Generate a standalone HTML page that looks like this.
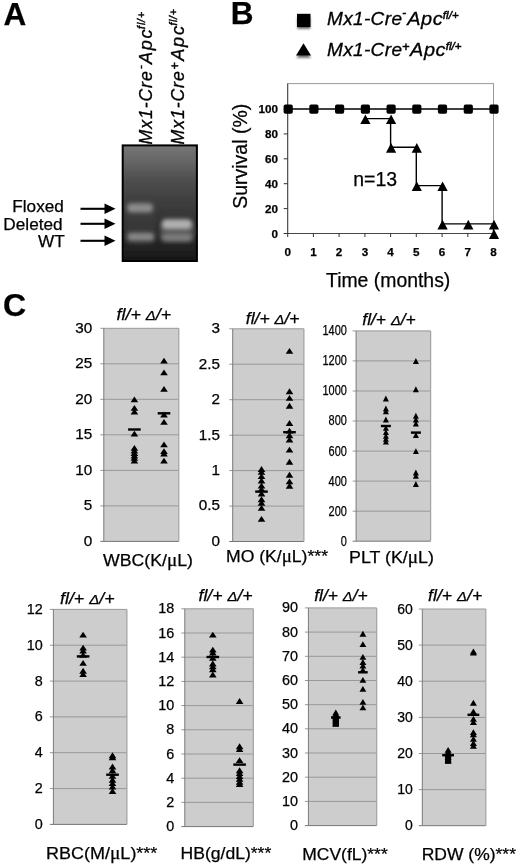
<!DOCTYPE html>
<html><head><meta charset="utf-8"><title>Figure</title>
<style>html,body{margin:0;padding:0;background:#fff;overflow:hidden;}svg{display:block;position:absolute;left:0;top:0;font-family:"Liberation Sans",sans-serif;}text{font-family:"Liberation Sans",sans-serif;fill:#000;stroke:#000;stroke-width:0.25px;}.b{font-weight:bold;}.i{font-style:italic;}</style></head><body>
<svg width="520" height="867" viewBox="0 0 520 867">
<defs><linearGradient id="gel" x1="0" y1="0" x2="0" y2="1"><stop offset="0" stop-color="#767676"/><stop offset="0.12" stop-color="#686868"/><stop offset="0.3" stop-color="#4e4e4e"/><stop offset="0.5" stop-color="#3d3d3d"/><stop offset="0.75" stop-color="#2d2d2d"/><stop offset="0.92" stop-color="#1f1f1f"/><stop offset="1" stop-color="#151515"/></linearGradient><filter id="bl" x="-50%" y="-50%" width="200%" height="200%"><feGaussianBlur stdDeviation="2.3"/></filter><filter id="bl2" x="-50%" y="-50%" width="200%" height="200%"><feGaussianBlur stdDeviation="1.2"/></filter><filter id="sh" x="-50%" y="-50%" width="200%" height="200%"><feGaussianBlur stdDeviation="1.3"/></filter><filter id="soft" x="-20%" y="-20%" width="140%" height="140%"><feGaussianBlur stdDeviation="0.45"/></filter></defs>
<rect x="0" y="0" width="520" height="867" fill="#fff"/>
<g filter="url(#soft)">
<text class="b" x="3.6" y="25.4" font-size="31.5">A</text>
<text class="b" x="230.8" y="24" font-size="31.5">B</text>
<text class="b" x="3.1" y="316.2" font-size="32">C</text>
<g transform="translate(152.2,144.5) rotate(-90)"><text class="i" transform="translate(0.0,0.0) scale(0.94,1)" font-size="18.8" textLength="77.9" lengthAdjust="spacing" style="stroke-width:0.3px">Mx1-Cre</text><text class="i" transform="translate(75.6,-8.2) scale(1.0,1)" font-size="11.0" textLength="3.3" lengthAdjust="spacing" style="stroke-width:0.5px">-</text><text class="i" transform="translate(80.5,0.0) scale(0.97,1)" font-size="18.8" textLength="35.7" lengthAdjust="spacing" style="stroke-width:0.3px">Apc</text><text class="i" transform="translate(115.6,-7.0) scale(0.95,1)" font-size="11" textLength="17.8" lengthAdjust="spacing" style="stroke-width:0.5px">fl/+</text></g>
<g transform="translate(184.0,144.5) rotate(-90)"><text class="i" transform="translate(0.0,0.0) scale(0.94,1)" font-size="18.8" textLength="77.9" lengthAdjust="spacing" style="stroke-width:0.3px">Mx1-Cre</text><text class="i" transform="translate(75.0,-4.8) scale(1.0,1)" font-size="12.32" textLength="6.4" lengthAdjust="spacing" style="stroke-width:0.5px">+</text><text class="i" transform="translate(83.7,0.0) scale(0.97,1)" font-size="18.8" textLength="35.9" lengthAdjust="spacing" style="stroke-width:0.3px">Apc</text><text class="i" transform="translate(118.9,-7.0) scale(0.95,1)" font-size="11" textLength="17.2" lengthAdjust="spacing" style="stroke-width:0.5px">fl/+</text></g>
<rect x="122.7" y="145.4" width="74.2" height="115.6" fill="url(#gel)" stroke="#000" stroke-width="2"/>
<rect x="160" y="222" width="34" height="19" rx="6" fill="#565656" filter="url(#bl)" opacity="0.8"/>
<rect x="125.5" y="200" width="30" height="44" rx="6" fill="#404040" filter="url(#bl)" opacity="0.5"/>
<g filter="url(#bl)">
<rect x="127.2" y="203.3" width="25.6" height="9.2" rx="4" fill="#8c8c8c"/>
<rect x="161.8" y="219.2" width="30.2" height="10" rx="4.5" fill="#b0b0b0"/>
<rect x="127.2" y="232.8" width="27" height="8" rx="4" fill="#888888"/>
<rect x="162" y="233.4" width="30" height="7.8" rx="4" fill="#7c7c7c"/>
</g>
<text x="63.9" y="212" font-size="17.2" text-anchor="end">Floxed</text>
<text x="62.6" y="229.7" font-size="17.2" text-anchor="end">Deleted</text>
<text x="64.7" y="247.4" font-size="17.2" text-anchor="end">WT</text>
<line x1="80.5" y1="208.8" x2="106" y2="208.8" stroke="#000" stroke-width="2.1"/>
<polygon points="104.5,203.60000000000002 115.5,208.8 104.5,214.0" fill="#000"/>
<line x1="80.5" y1="223.8" x2="106" y2="223.8" stroke="#000" stroke-width="2.1"/>
<polygon points="104.5,218.60000000000002 115.5,223.8 104.5,229.0" fill="#000"/>
<line x1="80.5" y1="240.8" x2="106" y2="240.8" stroke="#000" stroke-width="2.1"/>
<polygon points="104.5,235.60000000000002 115.5,240.8 104.5,246.0" fill="#000"/>
<rect x="297.3" y="17.5" width="13" height="11.5" fill="#444" filter="url(#sh)" opacity="0.75"/>
<rect x="297" y="13.8" width="13.5" height="13.3" fill="#000"/>
<polygon points="296.3,58 311,58 303.7,48" fill="#444" filter="url(#sh)" opacity="0.75"/>
<polygon points="296,55.6 311,55.6 303.5,43.2" fill="#000"/>
<g transform="translate(327,24.8)"><text class="i" transform="translate(0.0,0.0) scale(1.05,1)" font-size="18.1" textLength="71.4" lengthAdjust="spacing" style="stroke-width:0.3px">Mx1-Cre</text><text class="i" transform="translate(75.2,-8.4) scale(1.0,1)" font-size="11.5" textLength="3.6" lengthAdjust="spacing" style="stroke-width:0.5px">-</text><text class="i" transform="translate(80.3,0.0) scale(1.1,1)" font-size="18.1" textLength="32.1" lengthAdjust="spacing" style="stroke-width:0.3px">Apc</text><text class="i" transform="translate(115.8,-5.8) scale(1.0,1)" font-size="11.5" textLength="15.9" lengthAdjust="spacing" style="stroke-width:0.5px">fl/+</text></g>
<g transform="translate(327,56.1)"><text class="i" transform="translate(0.0,0.0) scale(1.05,1)" font-size="18.1" textLength="71.4" lengthAdjust="spacing" style="stroke-width:0.3px">Mx1-Cre</text><text class="i" transform="translate(74.9,-4.8) scale(1.0,1)" font-size="12.88" textLength="6.8" lengthAdjust="spacing" style="stroke-width:0.5px">+</text><text class="i" transform="translate(83.1,0.0) scale(1.1,1)" font-size="18.1" textLength="32.2" lengthAdjust="spacing" style="stroke-width:0.3px">Apc</text><text class="i" transform="translate(118.7,-5.8) scale(1.0,1)" font-size="11.5" textLength="15.8" lengthAdjust="spacing" style="stroke-width:0.5px">fl/+</text></g>
<rect x="287.7" y="83.6" width="205.8" height="149.9" fill="none" stroke="#999999" stroke-width="1"/>
<line x1="287.7" y1="83.6" x2="287.7" y2="233.5" stroke="#444" stroke-width="1"/>
<line x1="287.7" y1="233.5" x2="493.5" y2="233.5" stroke="#444" stroke-width="1"/>
<line x1="283.7" y1="233.5" x2="287.7" y2="233.5" stroke="#333" stroke-width="1"/>
<text class="b" x="278" y="237.7" font-size="11.7" text-anchor="end">0</text>
<line x1="283.7" y1="208.6" x2="287.7" y2="208.6" stroke="#333" stroke-width="1"/>
<text class="b" x="278" y="212.8" font-size="11.7" text-anchor="end">20</text>
<line x1="283.7" y1="183.7" x2="287.7" y2="183.7" stroke="#333" stroke-width="1"/>
<text class="b" x="278" y="187.9" font-size="11.7" text-anchor="end">40</text>
<line x1="283.7" y1="158.8" x2="287.7" y2="158.8" stroke="#333" stroke-width="1"/>
<text class="b" x="278" y="163.0" font-size="11.7" text-anchor="end">60</text>
<line x1="283.7" y1="133.9" x2="287.7" y2="133.9" stroke="#333" stroke-width="1"/>
<text class="b" x="278" y="138.1" font-size="11.7" text-anchor="end">80</text>
<line x1="283.7" y1="109.0" x2="287.7" y2="109.0" stroke="#333" stroke-width="1"/>
<text class="b" x="278" y="113.2" font-size="11.7" text-anchor="end">100</text>
<line x1="287.7" y1="233.5" x2="287.7" y2="237.0" stroke="#333" stroke-width="1"/>
<text class="b" x="287.7" y="255.6" font-size="11.7" text-anchor="middle">0</text>
<line x1="313.4" y1="233.5" x2="313.4" y2="237.0" stroke="#333" stroke-width="1"/>
<text class="b" x="313.4" y="255.6" font-size="11.7" text-anchor="middle">1</text>
<line x1="339.1" y1="233.5" x2="339.1" y2="237.0" stroke="#333" stroke-width="1"/>
<text class="b" x="339.1" y="255.6" font-size="11.7" text-anchor="middle">2</text>
<line x1="364.9" y1="233.5" x2="364.9" y2="237.0" stroke="#333" stroke-width="1"/>
<text class="b" x="364.9" y="255.6" font-size="11.7" text-anchor="middle">3</text>
<line x1="390.6" y1="233.5" x2="390.6" y2="237.0" stroke="#333" stroke-width="1"/>
<text class="b" x="390.6" y="255.6" font-size="11.7" text-anchor="middle">4</text>
<line x1="416.3" y1="233.5" x2="416.3" y2="237.0" stroke="#333" stroke-width="1"/>
<text class="b" x="416.3" y="255.6" font-size="11.7" text-anchor="middle">5</text>
<line x1="442.1" y1="233.5" x2="442.1" y2="237.0" stroke="#333" stroke-width="1"/>
<text class="b" x="442.1" y="255.6" font-size="11.7" text-anchor="middle">6</text>
<line x1="467.8" y1="233.5" x2="467.8" y2="237.0" stroke="#333" stroke-width="1"/>
<text class="b" x="467.8" y="255.6" font-size="11.7" text-anchor="middle">7</text>
<line x1="493.5" y1="233.5" x2="493.5" y2="237.0" stroke="#333" stroke-width="1"/>
<text class="b" x="493.5" y="255.6" font-size="11.7" text-anchor="middle">8</text>
<line x1="287.7" y1="109.0" x2="493.5" y2="109.0" stroke="#000" stroke-width="1.4"/>
<polyline fill="none" stroke="#000" stroke-width="1.4" points="364.9,118.6 390.6,118.6 390.6,147.3 416.3,147.3 416.3,185.6 442.1,185.6 442.1,223.9 467.8,223.9 493.5,223.9 493.5,233.5"/>
<rect x="283.6" y="104.6" width="9.2" height="9.2" rx="1.8" fill="#000"/>
<rect x="309.3" y="104.6" width="9.2" height="9.2" rx="1.8" fill="#000"/>
<rect x="335.0" y="104.6" width="9.2" height="9.2" rx="1.8" fill="#000"/>
<rect x="360.8" y="104.6" width="9.2" height="9.2" rx="1.8" fill="#000"/>
<rect x="386.5" y="104.6" width="9.2" height="9.2" rx="1.8" fill="#000"/>
<rect x="412.2" y="104.6" width="9.2" height="9.2" rx="1.8" fill="#000"/>
<rect x="437.9" y="104.6" width="9.2" height="9.2" rx="1.8" fill="#000"/>
<rect x="463.7" y="104.6" width="9.2" height="9.2" rx="1.8" fill="#000"/>
<rect x="489.4" y="104.6" width="9.2" height="9.2" rx="1.8" fill="#000"/>
<polygon points="360.3,124.1 370.5,124.1 365.4,114.4" fill="#000"/>
<polygon points="386.0,124.1 396.2,124.1 391.1,114.4" fill="#000"/>
<polygon points="386.0,152.8 396.2,152.8 391.1,143.1" fill="#000"/>
<polygon points="411.7,152.8 421.9,152.8 416.8,143.1" fill="#000"/>
<polygon points="411.7,191.1 421.9,191.1 416.8,181.4" fill="#000"/>
<polygon points="437.4,191.1 447.7,191.1 442.6,181.4" fill="#000"/>
<polygon points="437.4,229.4 447.7,229.4 442.6,219.7" fill="#000"/>
<polygon points="463.2,229.4 473.4,229.4 468.3,219.7" fill="#000"/>
<polygon points="488.9,229.4 499.1,229.4 494.0,219.7" fill="#000"/>
<polygon points="488.9,239.0 499.1,239.0 494.0,229.3" fill="#000"/>
<text x="353.3" y="186.2" font-size="19.3" textLength="43.8" lengthAdjust="spacingAndGlyphs">n=13</text>
<text font-size="19.5" text-anchor="middle" transform="translate(247.2,156.3) rotate(-90)">Survival (%)</text>
<text x="326" y="286.7" font-size="19.5" textLength="124.3" lengthAdjust="spacingAndGlyphs">Time (months)</text>
<rect x="103.8" y="328.3" width="75.0" height="213.1" fill="#cdcdcd"/>
<line x1="100.3" y1="541.4" x2="178.8" y2="541.4" stroke="#767676" stroke-width="1"/>
<text x="92.3" y="545.7" font-size="13.8" text-anchor="end" textLength="8.5" lengthAdjust="spacingAndGlyphs">0</text>
<line x1="100.3" y1="505.9" x2="178.8" y2="505.9" stroke="#999999" stroke-width="1"/>
<text x="92.3" y="510.2" font-size="13.8" text-anchor="end" textLength="8.5" lengthAdjust="spacingAndGlyphs">5</text>
<line x1="100.3" y1="470.4" x2="178.8" y2="470.4" stroke="#999999" stroke-width="1"/>
<text x="92.3" y="474.7" font-size="13.8" text-anchor="end" textLength="17.0" lengthAdjust="spacingAndGlyphs">10</text>
<line x1="100.3" y1="434.8" x2="178.8" y2="434.8" stroke="#999999" stroke-width="1"/>
<text x="92.3" y="439.2" font-size="13.8" text-anchor="end" textLength="17.0" lengthAdjust="spacingAndGlyphs">15</text>
<line x1="100.3" y1="399.3" x2="178.8" y2="399.3" stroke="#999999" stroke-width="1"/>
<text x="92.3" y="403.7" font-size="13.8" text-anchor="end" textLength="17.0" lengthAdjust="spacingAndGlyphs">20</text>
<line x1="100.3" y1="363.8" x2="178.8" y2="363.8" stroke="#999999" stroke-width="1"/>
<text x="92.3" y="368.2" font-size="13.8" text-anchor="end" textLength="17.0" lengthAdjust="spacingAndGlyphs">25</text>
<line x1="100.3" y1="328.3" x2="178.8" y2="328.3" stroke="#999999" stroke-width="1"/>
<text x="92.3" y="332.6" font-size="13.8" text-anchor="end" textLength="17.0" lengthAdjust="spacingAndGlyphs">30</text>
<line x1="103.8" y1="328.3" x2="103.8" y2="541.4" stroke="#7a7a7a" stroke-width="1"/>
<line x1="178.8" y1="328.3" x2="178.8" y2="541.4" stroke="#a2a2a2" stroke-width="1.2"/>
<text class="i" x="116.5" y="320.0" font-size="16.2" textLength="54.7" lengthAdjust="spacingAndGlyphs">fl/+ <tspan font-size="84%">&#916;</tspan>/+</text>
<polygon points="130.6,402.3 138.2,402.3 134.4,396.4" fill="#000"/>
<polygon points="130.6,410.8 138.2,410.8 134.4,404.9" fill="#000"/>
<polygon points="130.6,414.6 138.2,414.6 134.4,408.7" fill="#000"/>
<polygon points="130.6,436.6 138.2,436.6 134.4,430.7" fill="#000"/>
<polygon points="130.6,450.8 138.2,450.8 134.4,444.9" fill="#000"/>
<polygon points="130.6,453.6 138.2,453.6 134.4,447.7" fill="#000"/>
<polygon points="130.6,456.1 138.2,456.1 134.4,450.2" fill="#000"/>
<polygon points="130.6,458.4 138.2,458.4 134.4,452.5" fill="#000"/>
<polygon points="130.6,460.8 138.2,460.8 134.4,454.9" fill="#000"/>
<polygon points="130.6,463.6 138.2,463.6 134.4,457.7" fill="#000"/>
<polygon points="160.2,363.6 167.8,363.6 164.0,357.7" fill="#000"/>
<polygon points="160.2,375.3 167.8,375.3 164.0,369.4" fill="#000"/>
<polygon points="160.2,391.8 167.8,391.8 164.0,385.9" fill="#000"/>
<polygon points="160.2,417.5 167.8,417.5 164.0,411.6" fill="#000"/>
<polygon points="160.2,424.8 167.8,424.8 164.0,418.9" fill="#000"/>
<polygon points="160.2,447.3 167.8,447.3 164.0,441.4" fill="#000"/>
<polygon points="160.2,454.1 167.8,454.1 164.0,448.2" fill="#000"/>
<polygon points="160.2,456.6 167.8,456.6 164.0,450.7" fill="#000"/>
<polygon points="160.2,463.6 167.8,463.6 164.0,457.7" fill="#000"/>
<rect x="128.1" y="428.3" width="12.6" height="2.4" fill="#000"/>
<rect x="157.7" y="412.1" width="12.6" height="2.4" fill="#000"/>
<text x="103.0" y="565.8" font-size="16.6" textLength="90.0" lengthAdjust="spacingAndGlyphs">WBC(K/<tspan font-family="Liberation Serif" font-size="108%">&#956;</tspan>L)</text>
<rect x="232.7" y="328.8" width="71.2" height="212.7" fill="#cdcdcd"/>
<line x1="229.2" y1="541.5" x2="303.9" y2="541.5" stroke="#767676" stroke-width="1"/>
<text x="219.9" y="545.8" font-size="13.8" text-anchor="end" textLength="8.5" lengthAdjust="spacingAndGlyphs">0</text>
<line x1="229.2" y1="506.1" x2="303.9" y2="506.1" stroke="#999999" stroke-width="1"/>
<text x="219.9" y="510.4" font-size="13.8" text-anchor="end" textLength="21.2" lengthAdjust="spacingAndGlyphs">0.5</text>
<line x1="229.2" y1="470.6" x2="303.9" y2="470.6" stroke="#999999" stroke-width="1"/>
<text x="219.9" y="474.9" font-size="13.8" text-anchor="end" textLength="8.5" lengthAdjust="spacingAndGlyphs">1</text>
<line x1="229.2" y1="435.2" x2="303.9" y2="435.2" stroke="#999999" stroke-width="1"/>
<text x="219.9" y="439.5" font-size="13.8" text-anchor="end" textLength="21.2" lengthAdjust="spacingAndGlyphs">1.5</text>
<line x1="229.2" y1="399.7" x2="303.9" y2="399.7" stroke="#999999" stroke-width="1"/>
<text x="219.9" y="404.0" font-size="13.8" text-anchor="end" textLength="8.5" lengthAdjust="spacingAndGlyphs">2</text>
<line x1="229.2" y1="364.2" x2="303.9" y2="364.2" stroke="#999999" stroke-width="1"/>
<text x="219.9" y="368.6" font-size="13.8" text-anchor="end" textLength="21.2" lengthAdjust="spacingAndGlyphs">2.5</text>
<line x1="229.2" y1="328.8" x2="303.9" y2="328.8" stroke="#999999" stroke-width="1"/>
<text x="219.9" y="333.1" font-size="13.8" text-anchor="end" textLength="8.5" lengthAdjust="spacingAndGlyphs">3</text>
<line x1="232.7" y1="328.8" x2="232.7" y2="541.5" stroke="#7a7a7a" stroke-width="1"/>
<line x1="303.9" y1="328.8" x2="303.9" y2="541.5" stroke="#a2a2a2" stroke-width="1.2"/>
<text class="i" x="245.8" y="323.8" font-size="16.2" textLength="53.8" lengthAdjust="spacingAndGlyphs">fl/+ <tspan font-size="84%">&#916;</tspan>/+</text>
<polygon points="257.7,471.9 265.3,471.9 261.5,466.0" fill="#000"/>
<polygon points="257.7,474.8 265.3,474.8 261.5,468.9" fill="#000"/>
<polygon points="257.7,479.1 265.3,479.1 261.5,473.2" fill="#000"/>
<polygon points="257.7,483.5 265.3,483.5 261.5,477.6" fill="#000"/>
<polygon points="257.7,488.4 265.3,488.4 261.5,482.5" fill="#000"/>
<polygon points="257.7,492.1 265.3,492.1 261.5,486.2" fill="#000"/>
<polygon points="257.7,496.4 265.3,496.4 261.5,490.5" fill="#000"/>
<polygon points="257.7,502.2 265.3,502.2 261.5,496.3" fill="#000"/>
<polygon points="257.7,505.7 265.3,505.7 261.5,499.8" fill="#000"/>
<polygon points="257.7,510.8 265.3,510.8 261.5,504.9" fill="#000"/>
<polygon points="257.7,521.8 265.3,521.8 261.5,515.9" fill="#000"/>
<polygon points="285.7,353.8 293.3,353.8 289.5,347.9" fill="#000"/>
<polygon points="285.7,394.2 293.3,394.2 289.5,388.3" fill="#000"/>
<polygon points="285.7,400.8 293.3,400.8 289.5,394.9" fill="#000"/>
<polygon points="285.7,408.7 293.3,408.7 289.5,402.8" fill="#000"/>
<polygon points="285.7,426.0 293.3,426.0 289.5,420.1" fill="#000"/>
<polygon points="285.7,433.6 293.3,433.6 289.5,427.7" fill="#000"/>
<polygon points="285.7,438.2 293.3,438.2 289.5,432.3" fill="#000"/>
<polygon points="285.7,442.5 293.3,442.5 289.5,436.6" fill="#000"/>
<polygon points="285.7,452.6 293.3,452.6 289.5,446.7" fill="#000"/>
<polygon points="285.7,464.7 293.3,464.7 289.5,458.8" fill="#000"/>
<polygon points="285.7,477.7 293.3,477.7 289.5,471.8" fill="#000"/>
<polygon points="285.7,484.3 293.3,484.3 289.5,478.4" fill="#000"/>
<polygon points="285.7,488.7 293.3,488.7 289.5,482.8" fill="#000"/>
<rect x="255.2" y="490.4" width="12.6" height="2.4" fill="#000"/>
<rect x="283.2" y="431.0" width="12.6" height="2.4" fill="#000"/>
<text x="226.0" y="562.3" font-size="16.6" textLength="102.0" lengthAdjust="spacingAndGlyphs">MO (K/<tspan font-family="Liberation Serif" font-size="108%">&#956;</tspan>L)***</text>
<rect x="356.1" y="330.9" width="74.5" height="210.3" fill="#cdcdcd"/>
<line x1="352.6" y1="541.2" x2="430.6" y2="541.2" stroke="#767676" stroke-width="1"/>
<text x="346.9" y="545.6" font-size="14" text-anchor="end" textLength="6.1" lengthAdjust="spacingAndGlyphs">0</text>
<line x1="352.6" y1="511.2" x2="430.6" y2="511.2" stroke="#999999" stroke-width="1"/>
<text x="346.9" y="515.6" font-size="14" text-anchor="end" textLength="18.3" lengthAdjust="spacingAndGlyphs">200</text>
<line x1="352.6" y1="481.1" x2="430.6" y2="481.1" stroke="#999999" stroke-width="1"/>
<text x="346.9" y="485.5" font-size="14" text-anchor="end" textLength="18.3" lengthAdjust="spacingAndGlyphs">400</text>
<line x1="352.6" y1="451.1" x2="430.6" y2="451.1" stroke="#999999" stroke-width="1"/>
<text x="346.9" y="455.5" font-size="14" text-anchor="end" textLength="18.3" lengthAdjust="spacingAndGlyphs">600</text>
<line x1="352.6" y1="421.0" x2="430.6" y2="421.0" stroke="#999999" stroke-width="1"/>
<text x="346.9" y="425.4" font-size="14" text-anchor="end" textLength="18.3" lengthAdjust="spacingAndGlyphs">800</text>
<line x1="352.6" y1="391.0" x2="430.6" y2="391.0" stroke="#999999" stroke-width="1"/>
<text x="346.9" y="395.4" font-size="14" text-anchor="end" textLength="24.4" lengthAdjust="spacingAndGlyphs">1000</text>
<line x1="352.6" y1="360.9" x2="430.6" y2="360.9" stroke="#999999" stroke-width="1"/>
<text x="346.9" y="365.4" font-size="14" text-anchor="end" textLength="24.4" lengthAdjust="spacingAndGlyphs">1200</text>
<line x1="352.6" y1="330.9" x2="430.6" y2="330.9" stroke="#999999" stroke-width="1"/>
<text x="346.9" y="335.3" font-size="14" text-anchor="end" textLength="24.4" lengthAdjust="spacingAndGlyphs">1400</text>
<line x1="356.1" y1="330.9" x2="356.1" y2="541.2" stroke="#7a7a7a" stroke-width="1"/>
<line x1="430.6" y1="330.9" x2="430.6" y2="541.2" stroke="#a2a2a2" stroke-width="1.2"/>
<text class="i" x="362.3" y="324.9" font-size="16.2" textLength="53.5" lengthAdjust="spacingAndGlyphs">fl/+ <tspan font-size="84%">&#916;</tspan>/+</text>
<polygon points="382.9,401.4 388.9,401.4 385.9,395.5" fill="#000"/>
<polygon points="382.9,411.5 388.9,411.5 385.9,405.6" fill="#000"/>
<polygon points="382.9,414.3 388.9,414.3 385.9,408.4" fill="#000"/>
<polygon points="382.9,422.4 388.9,422.4 385.9,416.5" fill="#000"/>
<polygon points="382.9,430.8 388.9,430.8 385.9,424.9" fill="#000"/>
<polygon points="382.9,435.1 388.9,435.1 385.9,429.2" fill="#000"/>
<polygon points="382.9,438.8 388.9,438.8 385.9,432.9" fill="#000"/>
<polygon points="382.9,441.8 388.9,441.8 385.9,435.9" fill="#000"/>
<polygon points="382.9,444.6 388.9,444.6 385.9,438.7" fill="#000"/>
<polygon points="412.9,363.9 418.9,363.9 415.9,358.0" fill="#000"/>
<polygon points="412.9,392.2 418.9,392.2 415.9,386.3" fill="#000"/>
<polygon points="412.9,418.7 418.9,418.7 415.9,412.8" fill="#000"/>
<polygon points="412.9,422.4 418.9,422.4 415.9,416.5" fill="#000"/>
<polygon points="412.9,426.5 418.9,426.5 415.9,420.6" fill="#000"/>
<polygon points="412.9,438.0 418.9,438.0 415.9,432.1" fill="#000"/>
<polygon points="412.9,454.1 418.9,454.1 415.9,448.2" fill="#000"/>
<polygon points="412.9,475.5 418.9,475.5 415.9,469.6" fill="#000"/>
<polygon points="412.9,478.7 418.9,478.7 415.9,472.8" fill="#000"/>
<polygon points="412.9,487.0 418.9,487.0 415.9,481.1" fill="#000"/>
<rect x="380.9" y="424.8" width="10.0" height="2.4" fill="#000"/>
<rect x="410.9" y="431.4" width="10.0" height="2.4" fill="#000"/>
<text x="349.0" y="563.0" font-size="16.6" textLength="85.0" lengthAdjust="spacingAndGlyphs">PLT (K/<tspan font-family="Liberation Serif" font-size="108%">&#956;</tspan>L)</text>
<rect x="53.4" y="609.4" width="73.5" height="215.0" fill="#cdcdcd"/>
<line x1="49.9" y1="824.4" x2="126.9" y2="824.4" stroke="#767676" stroke-width="1"/>
<text x="42.8" y="828.9" font-size="14.4" text-anchor="end" textLength="8.0" lengthAdjust="spacingAndGlyphs">0</text>
<line x1="49.9" y1="788.6" x2="126.9" y2="788.6" stroke="#999999" stroke-width="1"/>
<text x="42.8" y="793.1" font-size="14.4" text-anchor="end" textLength="8.0" lengthAdjust="spacingAndGlyphs">2</text>
<line x1="49.9" y1="752.7" x2="126.9" y2="752.7" stroke="#999999" stroke-width="1"/>
<text x="42.8" y="757.3" font-size="14.4" text-anchor="end" textLength="8.0" lengthAdjust="spacingAndGlyphs">4</text>
<line x1="49.9" y1="716.9" x2="126.9" y2="716.9" stroke="#999999" stroke-width="1"/>
<text x="42.8" y="721.4" font-size="14.4" text-anchor="end" textLength="8.0" lengthAdjust="spacingAndGlyphs">6</text>
<line x1="49.9" y1="681.1" x2="126.9" y2="681.1" stroke="#999999" stroke-width="1"/>
<text x="42.8" y="685.6" font-size="14.4" text-anchor="end" textLength="8.0" lengthAdjust="spacingAndGlyphs">8</text>
<line x1="49.9" y1="645.2" x2="126.9" y2="645.2" stroke="#999999" stroke-width="1"/>
<text x="42.8" y="649.8" font-size="14.4" text-anchor="end" textLength="16.0" lengthAdjust="spacingAndGlyphs">10</text>
<line x1="49.9" y1="609.4" x2="126.9" y2="609.4" stroke="#999999" stroke-width="1"/>
<text x="42.8" y="613.9" font-size="14.4" text-anchor="end" textLength="16.0" lengthAdjust="spacingAndGlyphs">12</text>
<line x1="53.4" y1="609.4" x2="53.4" y2="824.4" stroke="#7a7a7a" stroke-width="1"/>
<line x1="126.9" y1="609.4" x2="126.9" y2="824.4" stroke="#a2a2a2" stroke-width="1.2"/>
<text class="i" x="60.0" y="603.8" font-size="16.2" textLength="54.6" lengthAdjust="spacingAndGlyphs">fl/+ <tspan font-size="84%">&#916;</tspan>/+</text>
<polygon points="79.3,637.6 86.9,637.6 83.1,631.7" fill="#000"/>
<polygon points="79.3,650.6 86.9,650.6 83.1,644.7" fill="#000"/>
<polygon points="79.3,653.5 86.9,653.5 83.1,647.6" fill="#000"/>
<polygon points="79.3,657.8 86.9,657.8 83.1,651.9" fill="#000"/>
<polygon points="79.3,665.8 86.9,665.8 83.1,659.9" fill="#000"/>
<polygon points="79.3,673.7 86.9,673.7 83.1,667.8" fill="#000"/>
<polygon points="79.3,677.1 86.9,677.1 83.1,671.2" fill="#000"/>
<polygon points="108.7,758.2 116.3,758.2 112.5,752.3" fill="#000"/>
<polygon points="108.7,760.2 116.3,760.2 112.5,754.3" fill="#000"/>
<polygon points="108.7,769.4 116.3,769.4 112.5,763.5" fill="#000"/>
<polygon points="108.7,773.2 116.3,773.2 112.5,767.3" fill="#000"/>
<polygon points="108.7,778.8 116.3,778.8 112.5,772.9" fill="#000"/>
<polygon points="108.7,782.7 116.3,782.7 112.5,776.8" fill="#000"/>
<polygon points="108.7,786.1 116.3,786.1 112.5,780.2" fill="#000"/>
<polygon points="108.7,789.6 116.3,789.6 112.5,783.7" fill="#000"/>
<polygon points="108.7,793.9 116.3,793.9 112.5,788.0" fill="#000"/>
<rect x="76.8" y="655.2" width="12.6" height="2.4" fill="#000"/>
<rect x="106.2" y="773.5" width="12.6" height="2.4" fill="#000"/>
<text x="46.0" y="859.0" font-size="16.6" textLength="111.4" lengthAdjust="spacingAndGlyphs">RBC(M/<tspan font-family="Liberation Serif" font-size="108%">&#956;</tspan>L)***</text>
<rect x="184.8" y="608.8" width="68.5" height="217.8" fill="#cdcdcd"/>
<line x1="181.3" y1="826.6" x2="253.3" y2="826.6" stroke="#767676" stroke-width="1"/>
<text x="174.3" y="831.1" font-size="14.4" text-anchor="end" textLength="8.0" lengthAdjust="spacingAndGlyphs">0</text>
<line x1="181.3" y1="802.4" x2="253.3" y2="802.4" stroke="#999999" stroke-width="1"/>
<text x="174.3" y="806.9" font-size="14.4" text-anchor="end" textLength="8.0" lengthAdjust="spacingAndGlyphs">2</text>
<line x1="181.3" y1="778.2" x2="253.3" y2="778.2" stroke="#999999" stroke-width="1"/>
<text x="174.3" y="782.7" font-size="14.4" text-anchor="end" textLength="8.0" lengthAdjust="spacingAndGlyphs">4</text>
<line x1="181.3" y1="754.0" x2="253.3" y2="754.0" stroke="#999999" stroke-width="1"/>
<text x="174.3" y="758.5" font-size="14.4" text-anchor="end" textLength="8.0" lengthAdjust="spacingAndGlyphs">6</text>
<line x1="181.3" y1="729.8" x2="253.3" y2="729.8" stroke="#999999" stroke-width="1"/>
<text x="174.3" y="734.3" font-size="14.4" text-anchor="end" textLength="8.0" lengthAdjust="spacingAndGlyphs">8</text>
<line x1="181.3" y1="705.6" x2="253.3" y2="705.6" stroke="#999999" stroke-width="1"/>
<text x="174.3" y="710.1" font-size="14.4" text-anchor="end" textLength="16.0" lengthAdjust="spacingAndGlyphs">10</text>
<line x1="181.3" y1="681.4" x2="253.3" y2="681.4" stroke="#999999" stroke-width="1"/>
<text x="174.3" y="685.9" font-size="14.4" text-anchor="end" textLength="16.0" lengthAdjust="spacingAndGlyphs">12</text>
<line x1="181.3" y1="657.2" x2="253.3" y2="657.2" stroke="#999999" stroke-width="1"/>
<text x="174.3" y="661.7" font-size="14.4" text-anchor="end" textLength="16.0" lengthAdjust="spacingAndGlyphs">14</text>
<line x1="181.3" y1="633.0" x2="253.3" y2="633.0" stroke="#999999" stroke-width="1"/>
<text x="174.3" y="637.5" font-size="14.4" text-anchor="end" textLength="16.0" lengthAdjust="spacingAndGlyphs">16</text>
<line x1="181.3" y1="608.8" x2="253.3" y2="608.8" stroke="#999999" stroke-width="1"/>
<text x="174.3" y="613.3" font-size="14.4" text-anchor="end" textLength="16.0" lengthAdjust="spacingAndGlyphs">18</text>
<line x1="184.8" y1="608.8" x2="184.8" y2="826.6" stroke="#7a7a7a" stroke-width="1"/>
<line x1="253.3" y1="608.8" x2="253.3" y2="826.6" stroke="#a2a2a2" stroke-width="1.2"/>
<text class="i" x="198.5" y="600.8" font-size="16.2" textLength="54.2" lengthAdjust="spacingAndGlyphs">fl/+ <tspan font-size="84%">&#916;</tspan>/+</text>
<polygon points="209.0,637.6 216.6,637.6 212.8,631.7" fill="#000"/>
<polygon points="209.0,652.6 216.6,652.6 212.8,646.7" fill="#000"/>
<polygon points="209.0,655.5 216.6,655.5 212.8,649.6" fill="#000"/>
<polygon points="209.0,660.7 216.6,660.7 212.8,654.8" fill="#000"/>
<polygon points="209.0,666.4 216.6,666.4 212.8,660.5" fill="#000"/>
<polygon points="209.0,669.3 216.6,669.3 212.8,663.4" fill="#000"/>
<polygon points="209.0,672.2 216.6,672.2 212.8,666.3" fill="#000"/>
<polygon points="209.0,677.4 216.6,677.4 212.8,671.5" fill="#000"/>
<polygon points="235.8,703.9 243.4,703.9 239.6,698.0" fill="#000"/>
<polygon points="235.8,749.2 243.4,749.2 239.6,743.3" fill="#000"/>
<polygon points="235.8,752.1 243.4,752.1 239.6,746.2" fill="#000"/>
<polygon points="235.8,763.1 243.4,763.1 239.6,757.2" fill="#000"/>
<polygon points="235.8,773.2 243.4,773.2 239.6,767.3" fill="#000"/>
<polygon points="235.8,776.0 243.4,776.0 239.6,770.1" fill="#000"/>
<polygon points="235.8,778.9 243.4,778.9 239.6,773.0" fill="#000"/>
<polygon points="235.8,781.8 243.4,781.8 239.6,775.9" fill="#000"/>
<polygon points="235.8,784.7 243.4,784.7 239.6,778.8" fill="#000"/>
<polygon points="235.8,787.0 243.4,787.0 239.6,781.1" fill="#000"/>
<rect x="206.5" y="655.8" width="12.6" height="2.4" fill="#000"/>
<rect x="233.3" y="763.4" width="12.6" height="2.4" fill="#000"/>
<text x="180.5" y="859.2" font-size="16.6" textLength="90.8" lengthAdjust="spacingAndGlyphs">HB(g/dL)***</text>
<rect x="308.4" y="607.9" width="68.3" height="217.7" fill="#cdcdcd"/>
<line x1="304.9" y1="825.6" x2="376.7" y2="825.6" stroke="#767676" stroke-width="1"/>
<text x="298.0" y="830.1" font-size="14.4" text-anchor="end" textLength="8.0" lengthAdjust="spacingAndGlyphs">0</text>
<line x1="304.9" y1="801.4" x2="376.7" y2="801.4" stroke="#999999" stroke-width="1"/>
<text x="298.0" y="805.9" font-size="14.4" text-anchor="end" textLength="16.0" lengthAdjust="spacingAndGlyphs">10</text>
<line x1="304.9" y1="777.2" x2="376.7" y2="777.2" stroke="#999999" stroke-width="1"/>
<text x="298.0" y="781.8" font-size="14.4" text-anchor="end" textLength="16.0" lengthAdjust="spacingAndGlyphs">20</text>
<line x1="304.9" y1="753.0" x2="376.7" y2="753.0" stroke="#999999" stroke-width="1"/>
<text x="298.0" y="757.6" font-size="14.4" text-anchor="end" textLength="16.0" lengthAdjust="spacingAndGlyphs">30</text>
<line x1="304.9" y1="728.8" x2="376.7" y2="728.8" stroke="#999999" stroke-width="1"/>
<text x="298.0" y="733.4" font-size="14.4" text-anchor="end" textLength="16.0" lengthAdjust="spacingAndGlyphs">40</text>
<line x1="304.9" y1="704.7" x2="376.7" y2="704.7" stroke="#999999" stroke-width="1"/>
<text x="298.0" y="709.2" font-size="14.4" text-anchor="end" textLength="16.0" lengthAdjust="spacingAndGlyphs">50</text>
<line x1="304.9" y1="680.5" x2="376.7" y2="680.5" stroke="#999999" stroke-width="1"/>
<text x="298.0" y="685.0" font-size="14.4" text-anchor="end" textLength="16.0" lengthAdjust="spacingAndGlyphs">60</text>
<line x1="304.9" y1="656.3" x2="376.7" y2="656.3" stroke="#999999" stroke-width="1"/>
<text x="298.0" y="660.8" font-size="14.4" text-anchor="end" textLength="16.0" lengthAdjust="spacingAndGlyphs">70</text>
<line x1="304.9" y1="632.1" x2="376.7" y2="632.1" stroke="#999999" stroke-width="1"/>
<text x="298.0" y="636.6" font-size="14.4" text-anchor="end" textLength="16.0" lengthAdjust="spacingAndGlyphs">80</text>
<line x1="304.9" y1="607.9" x2="376.7" y2="607.9" stroke="#999999" stroke-width="1"/>
<text x="298.0" y="612.4" font-size="14.4" text-anchor="end" textLength="16.0" lengthAdjust="spacingAndGlyphs">90</text>
<line x1="308.4" y1="607.9" x2="308.4" y2="825.6" stroke="#7a7a7a" stroke-width="1"/>
<line x1="376.7" y1="607.9" x2="376.7" y2="825.6" stroke="#a2a2a2" stroke-width="1.2"/>
<text class="i" x="314.2" y="600.8" font-size="16.2" textLength="53.5" lengthAdjust="spacingAndGlyphs">fl/+ <tspan font-size="84%">&#916;</tspan>/+</text>
<polygon points="332.4,715.3 339.2,715.3 335.8,709.4" fill="#000"/>
<polygon points="332.4,717.3 339.2,717.3 335.8,711.4" fill="#000"/>
<polygon points="332.4,719.3 339.2,719.3 335.8,713.4" fill="#000"/>
<polygon points="332.4,721.3 339.2,721.3 335.8,715.4" fill="#000"/>
<polygon points="332.4,723.3 339.2,723.3 335.8,717.4" fill="#000"/>
<polygon points="332.4,725.3 339.2,725.3 335.8,719.4" fill="#000"/>
<polygon points="332.4,726.8 339.2,726.8 335.8,720.9" fill="#000"/>
<polygon points="359.5,636.7 366.3,636.7 362.9,630.8" fill="#000"/>
<polygon points="359.5,647.1 366.3,647.1 362.9,641.2" fill="#000"/>
<polygon points="359.5,659.8 366.3,659.8 362.9,653.9" fill="#000"/>
<polygon points="359.5,665.0 366.3,665.0 362.9,659.1" fill="#000"/>
<polygon points="359.5,668.5 366.3,668.5 362.9,662.6" fill="#000"/>
<polygon points="359.5,672.8 366.3,672.8 362.9,666.9" fill="#000"/>
<polygon points="359.5,682.8 366.3,682.8 362.9,676.9" fill="#000"/>
<polygon points="359.5,691.8 366.3,691.8 362.9,685.9" fill="#000"/>
<polygon points="359.5,704.8 366.3,704.8 362.9,698.9" fill="#000"/>
<polygon points="359.5,710.3 366.3,710.3 362.9,704.4" fill="#000"/>
<rect x="331.0" y="716.3" width="9.6" height="2.4" fill="#000"/>
<rect x="358.1" y="671.1" width="9.6" height="2.4" fill="#000"/>
<text x="302.3" y="860.2" font-size="16.6" textLength="85.4" lengthAdjust="spacingAndGlyphs">MCV(fL)***</text>
<rect x="422.3" y="609.0" width="63.5" height="216.7" fill="#cdcdcd"/>
<line x1="418.8" y1="825.7" x2="485.8" y2="825.7" stroke="#767676" stroke-width="1"/>
<text x="412.8" y="830.2" font-size="14.4" text-anchor="end" textLength="7.8" lengthAdjust="spacingAndGlyphs">0</text>
<line x1="418.8" y1="789.6" x2="485.8" y2="789.6" stroke="#999999" stroke-width="1"/>
<text x="412.8" y="794.1" font-size="14.4" text-anchor="end" textLength="15.6" lengthAdjust="spacingAndGlyphs">10</text>
<line x1="418.8" y1="753.5" x2="485.8" y2="753.5" stroke="#999999" stroke-width="1"/>
<text x="412.8" y="758.0" font-size="14.4" text-anchor="end" textLength="15.6" lengthAdjust="spacingAndGlyphs">20</text>
<line x1="418.8" y1="717.4" x2="485.8" y2="717.4" stroke="#999999" stroke-width="1"/>
<text x="412.8" y="721.9" font-size="14.4" text-anchor="end" textLength="15.6" lengthAdjust="spacingAndGlyphs">30</text>
<line x1="418.8" y1="681.2" x2="485.8" y2="681.2" stroke="#999999" stroke-width="1"/>
<text x="412.8" y="685.8" font-size="14.4" text-anchor="end" textLength="15.6" lengthAdjust="spacingAndGlyphs">40</text>
<line x1="418.8" y1="645.1" x2="485.8" y2="645.1" stroke="#999999" stroke-width="1"/>
<text x="412.8" y="649.7" font-size="14.4" text-anchor="end" textLength="15.6" lengthAdjust="spacingAndGlyphs">50</text>
<line x1="418.8" y1="609.0" x2="485.8" y2="609.0" stroke="#999999" stroke-width="1"/>
<text x="412.8" y="613.5" font-size="14.4" text-anchor="end" textLength="15.6" lengthAdjust="spacingAndGlyphs">60</text>
<line x1="422.3" y1="609.0" x2="422.3" y2="825.7" stroke="#7a7a7a" stroke-width="1"/>
<line x1="485.8" y1="609.0" x2="485.8" y2="825.7" stroke="#a2a2a2" stroke-width="1.2"/>
<text class="i" x="428.1" y="600.8" font-size="16.2" textLength="54.1" lengthAdjust="spacingAndGlyphs">fl/+ <tspan font-size="84%">&#916;</tspan>/+</text>
<polygon points="444.6,752.8 451.6,752.8 448.1,746.9" fill="#000"/>
<polygon points="444.6,754.8 451.6,754.8 448.1,748.9" fill="#000"/>
<polygon points="444.6,757.3 451.6,757.3 448.1,751.4" fill="#000"/>
<polygon points="444.6,759.8 451.6,759.8 448.1,753.9" fill="#000"/>
<polygon points="444.6,762.3 451.6,762.3 448.1,756.4" fill="#000"/>
<polygon points="444.6,763.8 451.6,763.8 448.1,757.9" fill="#000"/>
<polygon points="469.9,654.3 476.9,654.3 473.4,648.4" fill="#000"/>
<polygon points="469.9,655.6 476.9,655.6 473.4,649.7" fill="#000"/>
<polygon points="469.9,705.7 476.9,705.7 473.4,699.8" fill="#000"/>
<polygon points="469.9,714.3 476.9,714.3 473.4,708.4" fill="#000"/>
<polygon points="469.9,721.8 476.9,721.8 473.4,715.9" fill="#000"/>
<polygon points="469.9,725.1 476.9,725.1 473.4,719.2" fill="#000"/>
<polygon points="469.9,735.1 476.9,735.1 473.4,729.2" fill="#000"/>
<polygon points="469.9,737.2 476.9,737.2 473.4,731.3" fill="#000"/>
<polygon points="469.9,741.8 476.9,741.8 473.4,735.9" fill="#000"/>
<polygon points="469.9,746.1 476.9,746.1 473.4,740.2" fill="#000"/>
<polygon points="469.9,748.8 476.9,748.8 473.4,742.9" fill="#000"/>
<rect x="442.2" y="754.0" width="11.8" height="2.4" fill="#000"/>
<rect x="467.5" y="713.6" width="11.8" height="2.4" fill="#000"/>
<text x="421.7" y="860.2" font-size="16.6" textLength="94.3" lengthAdjust="spacingAndGlyphs">RDW (%)***</text>
<rect x="332.7" y="715.5" width="6.2" height="11" fill="#000"/>
<rect x="445.1" y="755" width="6" height="8.6" fill="#000"/>
</g>
</svg></body></html>
